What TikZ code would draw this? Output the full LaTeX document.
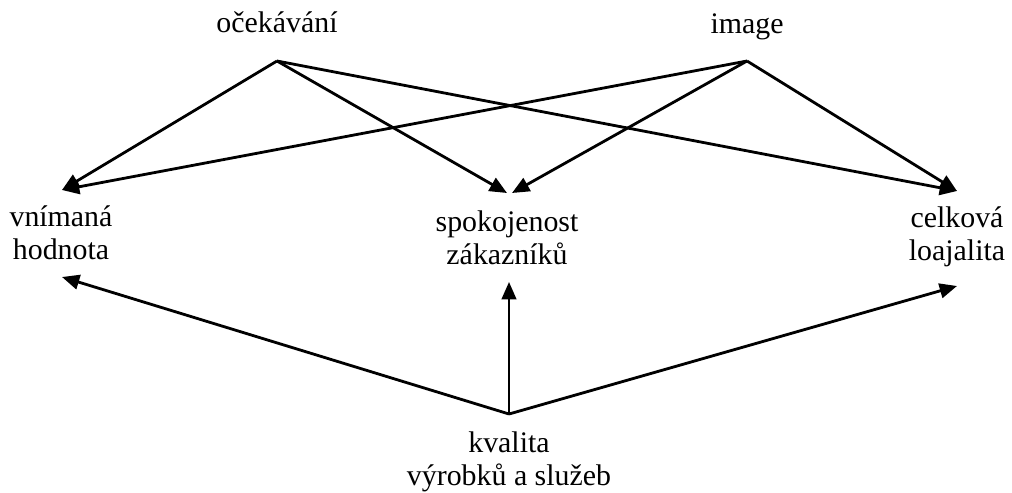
\documentclass[tikz,border=0pt]{standalone}
\usepackage{fontspec}
\setmainfont{Liberation Serif}
\usetikzlibrary{arrows.meta}
\begin{document}
\begin{tikzpicture}[x=0.75pt,y=-0.75pt,
  lbl/.style={font=\fontsize{22.4}{24.4}\selectfont, align=center, inner sep=0pt, anchor=base},
  conn/.style={line width=2.1pt, -{Triangle[length=13pt,width=11pt]}},
  connthin/.style={conn, line width=1.6pt},
]
\useasboundingbox (0,0) rectangle (1012,492);
% labels (anchor base = baseline of the last line)
\node[lbl] (O) at (277,33) {očekávání};
\node[lbl] (I) at (747,34) {image};
\node[lbl] (V) at (61,259) {vnímaná\\hodnota};
\node[lbl] (S) at (507,264) {spokojenost\\zákazníků};
\node[lbl] (C) at (957,260) {celková\\loajalita};
\node[lbl] (K) at (509,485) {kvalita\\výrobků a služeb};
% connector end points
\coordinate (o-out) at (277,61);
\coordinate (i-out) at (747,61);
\coordinate (v-top) at (62,190);
\coordinate (s-top1) at (507,193);
\coordinate (s-top2) at (512,193);
\coordinate (c-top) at (957,191);
\coordinate (k-out) at (509,414);
\coordinate (v-bot) at (62,277);
\coordinate (s-bot) at (509,282);
\coordinate (c-bot) at (957,286);
% connectors
\draw[conn] (o-out) -- (v-top);
\draw[conn] (o-out) -- (s-top1);
\draw[conn] (o-out) -- (c-top);
\draw[conn] (i-out) -- (v-top);
\draw[conn] (i-out) -- (s-top2);
\draw[conn] (i-out) -- (c-top);
\draw[conn] (k-out) -- (v-bot);
\draw[connthin] (k-out) -- (s-bot);
\draw[conn] (k-out) -- (c-bot);
\end{tikzpicture}
\end{document}
